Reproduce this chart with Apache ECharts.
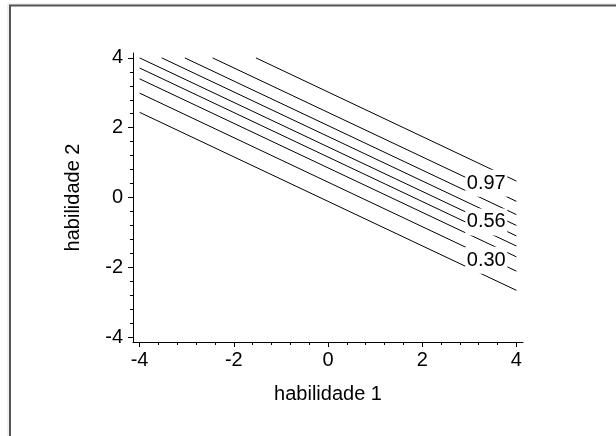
<!DOCTYPE html>
<html>
<head>
<meta charset="utf-8">
<script src="https://cdn.jsdelivr.net/npm/echarts@6/dist/echarts.min.js"></script>
<style>
  html, body { margin: 0; padding: 0; background: #fff; }
  #main { width: 616px; height: 436px; }
</style>
</head>
<body>
<div id="main"></div>
<script>
// contour lines (start / end points in data units)
const lineStartX = [-4, -4, -4, -4, -4, -3.53, -3.04, -2.45, -1.53];
const lineStartY = [2.44, 2.99, 3.40, 3.71, 4.0, 4.0, 4.0, 4.0, 4.0];
const lineEndX = [4, 4, 4, 4, 4, 4, 4, 4, 4];
const lineEndY = [-2.66, -2.11, -1.70, -1.39, -1.10, -0.80, -0.49, -0.11, 0.47];

// contour labels
const labelText = ['0.97', '0.56', '0.30'];
const labelX = [3.36, 3.36, 3.36];
const labelY = [0.41, -0.70, -1.80];

// ticks
const majorTicks = [-4, -2, 0, 2, 4];
const minorTicks = [];
for (let v = -4; v <= 4.001; v += 0.4) minorTicks.push(Math.round(v * 10) / 10);

const font = 'Liberation Sans';
const axisMin = -4.14, axisMax = 4.14;

function mainAxis(name, isX) {
  return {
    type: 'value',
    position: isX ? 'bottom' : 'left',
    min: axisMin,
    max: axisMax,
    name: name,
    nameLocation: 'middle',
    nameGap: isX ? 42 : 50,
    nameTextStyle: { color: '#000', fontFamily: font, fontSize: 20 },
    axisLine: { show: true, onZero: false, lineStyle: { color: '#000', width: 1 } },
    axisTick: { show: true, customValues: majorTicks, length: 5, lineStyle: { color: '#000' } },
    axisLabel: { show: true, customValues: majorTicks, color: '#000', fontFamily: font, fontSize: 20, margin: isX ? 8 : 10 },
    splitLine: { show: false }
  };
}

function minorAxis(isX) {
  return {
    type: 'value',
    position: isX ? 'bottom' : 'left',
    offset: 0,
    min: axisMin,
    max: axisMax,
    axisLine: { show: false, onZero: false },
    axisTick: { show: true, customValues: minorTicks, length: 3, lineStyle: { color: '#000' } },
    axisLabel: { show: false },
    splitLine: { show: false }
  };
}

const series = [];
for (let i = 0; i < lineStartX.length; i++) {
  series.push({
    type: 'line',
    xAxisIndex: 0,
    yAxisIndex: 0,
    data: [[lineStartX[i], lineStartY[i]], [lineEndX[i], lineEndY[i]]],
    showSymbol: false,
    silent: true,
    lineStyle: { color: '#000', width: 1 },
    z: 2
  });
}
series.push({
  type: 'scatter',
  xAxisIndex: 0,
  yAxisIndex: 0,
  symbol: 'rect',
  symbolSize: [42, 27],
  itemStyle: { color: '#fff', opacity: 1 },
  label: {
    show: true,
    position: 'inside',
    color: '#000',
    fontFamily: font,
    fontSize: 20,
    formatter: p => p.data[2]
  },
  data: labelText.map((t, i) => [labelX[i], labelY[i], t]),
  silent: true,
  z: 5
});

const chart = echarts.init(document.getElementById('main'), null, { renderer: 'canvas' });
chart.setOption({
  animation: false,
  backgroundColor: '#fff',
  grid: { left: 133, right: 93, top: 53, bottom: 94 },
  xAxis: [mainAxis('habilidade 1', true), minorAxis(true)],
  yAxis: [mainAxis('habilidade 2', false), minorAxis(false)],
  series: series,
  graphic: [
    { type: 'line', shape: { x1: 8, y1: 4, x2: 616, y2: 4 }, style: { stroke: '#e0e0e0', lineWidth: 1 } },
    { type: 'line', shape: { x1: 8, y1: 4, x2: 8, y2: 436 }, style: { stroke: '#e0e0e0', lineWidth: 1 } },
    { type: 'line', shape: { x1: 9, y1: 5.5, x2: 616, y2: 5.5 }, style: { stroke: '#555', lineWidth: 2 } },
    { type: 'line', shape: { x1: 10, y1: 5, x2: 10, y2: 436 }, style: { stroke: '#555', lineWidth: 2 } }
  ]
});
</script>
</body>
</html>
